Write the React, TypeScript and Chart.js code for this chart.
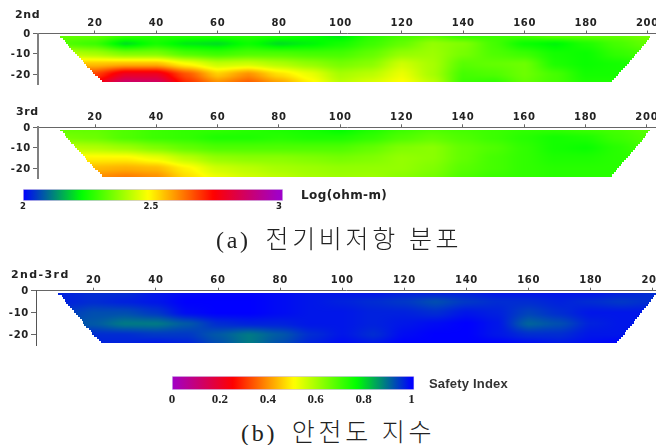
import React, { useEffect, useRef } from "react";
import { Chart, registerables } from "chart.js";

Chart.register(...registerables);

// ---------- data ----------
const xGrid = [10, 20, 30, 40, 50, 60, 70, 80, 90, 100, 110, 120, 130, 140, 150, 160, 170, 180, 190, 200];
const depthGrid = [-1, -5, -10, -15, -20, -24];
const xTickValues = [20, 40, 60, 80, 100, 120, 140, 160, 180, 200];
const yTickValues = [0, -10, -20];

const values2nd = [
  [2.33, 2.33, 2.29, 2.27, 2.27, 2.27, 2.27, 2.26, 2.24, 2.21, 2.27, 2.3, 2.32, 2.28, 2.29, 2.3, 2.33, 2.33, 2.33, 2.35],
  [2.31, 2.29, 2.2, 2.25, 2.21, 2.2, 2.24, 2.2, 2.22, 2.25, 2.29, 2.33, 2.38, 2.36, 2.3, 2.24, 2.22, 2.26, 2.3, 2.33],
  [2.42, 2.4, 2.36, 2.36, 2.31, 2.29, 2.31, 2.31, 2.3, 2.3, 2.33, 2.38, 2.39, 2.35, 2.31, 2.29, 2.25, 2.24, 2.28, 2.3],
  [2.55, 2.55, 2.56, 2.56, 2.49, 2.43, 2.44, 2.41, 2.38, 2.35, 2.37, 2.44, 2.4, 2.32, 2.33, 2.34, 2.26, 2.24, 2.25, 2.27],
  [2.68, 2.68, 2.79, 2.79, 2.66, 2.54, 2.6, 2.52, 2.47, 2.4, 2.42, 2.47, 2.4, 2.3, 2.31, 2.34, 2.3, 2.25, 2.25, 2.25],
  [2.75, 2.75, 2.88, 2.87, 2.7, 2.6, 2.65, 2.58, 2.5, 2.42, 2.45, 2.49, 2.42, 2.29, 2.28, 2.33, 2.3, 2.26, 2.26, 2.26],
];
const values3rd = [
  [2.33, 2.33, 2.31, 2.29, 2.28, 2.28, 2.27, 2.26, 2.25, 2.23, 2.26, 2.29, 2.31, 2.3, 2.29, 2.28, 2.28, 2.29, 2.3, 2.32],
  [2.35, 2.34, 2.31, 2.29, 2.28, 2.26, 2.26, 2.27, 2.26, 2.26, 2.28, 2.31, 2.33, 2.31, 2.29, 2.27, 2.25, 2.26, 2.29, 2.31],
  [2.42, 2.41, 2.39, 2.36, 2.33, 2.31, 2.31, 2.31, 2.31, 2.31, 2.33, 2.36, 2.37, 2.33, 2.31, 2.28, 2.25, 2.24, 2.27, 2.3],
  [2.5, 2.5, 2.5, 2.47, 2.42, 2.38, 2.37, 2.37, 2.36, 2.35, 2.36, 2.38, 2.37, 2.33, 2.3, 2.28, 2.26, 2.26, 2.27, 2.28],
  [2.56, 2.56, 2.57, 2.56, 2.5, 2.44, 2.42, 2.4, 2.39, 2.38, 2.38, 2.38, 2.36, 2.32, 2.3, 2.28, 2.27, 2.27, 2.27, 2.28],
  [2.6, 2.6, 2.62, 2.6, 2.52, 2.47, 2.44, 2.42, 2.4, 2.39, 2.39, 2.37, 2.35, 2.31, 2.29, 2.28, 2.27, 2.27, 2.27, 2.28],
];
const valuesDiff = [
  [0.97, 0.96, 0.96, 0.98, 0.99, 0.995, 0.995, 0.99, 0.98, 0.98, 0.98, 0.97, 0.97, 0.97, 0.98, 0.98, 0.98, 0.98, 0.97, 0.96],
  [0.97, 0.96, 0.97, 0.98, 1, 1, 1, 0.99, 0.98, 0.97, 0.96, 0.95, 0.93, 0.95, 0.96, 0.96, 0.97, 0.96, 0.95, 0.96],
  [0.95, 0.93, 0.93, 0.95, 0.99, 1, 1, 0.99, 0.98, 0.98, 0.97, 0.97, 0.96, 0.98, 0.97, 0.94, 0.96, 0.98, 0.98, 0.98],
  [0.93, 0.92, 0.89, 0.89, 0.92, 0.96, 0.97, 0.97, 0.98, 0.98, 0.97, 0.98, 0.99, 1, 0.98, 0.91, 0.93, 0.97, 0.98, 0.98],
  [0.96, 0.96, 0.96, 0.95, 0.95, 0.92, 0.89, 0.92, 0.96, 0.98, 0.96, 0.99, 1, 1, 0.98, 0.96, 0.96, 0.98, 0.98, 1],
  [0.97, 0.97, 0.97, 0.98, 0.97, 0.93, 0.89, 0.93, 0.97, 0.99, 0.98, 1, 1, 1, 1, 0.99, 0.98, 0.99, 1, 1],
];

// section outline
const edgeDepth = [-1.2, -2, -3, -4, -5, -6, -7, -8, -9, -10, -11, -12, -13, -14, -15, -16, -17, -18, -19, -20, -21, -22, -23, -24];
const edgeLeft = [8.6, 9.7, 10.2, 10.6, 11.2, 11.7, 12.3, 13, 13.5, 14.2, 14.8, 15.5, 16.2, 16.6, 17, 17.5, 18.4, 19, 19.5, 20, 20.9, 21.6, 22.2, 22.5];
const edgeRight = [201.3, 200.9, 200.4, 199.9, 199.4, 198.9, 198.3, 197.8, 197.2, 196.6, 196, 195.5, 195, 194.4, 193.9, 193.2, 192.6, 192, 191.5, 190.9, 190.3, 189.8, 189.2, 188.5];

// colour scale
const stopPositions = [0, 0.23, 0.49, 0.745, 1];
const stopColors = [
  [0, 0, 255],
  [0, 255, 0],
  [255, 255, 0],
  [255, 0, 0],
  [160, 0, 200],
];

const logTicks = [2, 2.5, 3];
const safetyTicks = [0, 0.2, 0.4, 0.6, 0.8, 1];

// ---------- helpers ----------
function colorAt(t: number) {
  const c = Math.max(0, Math.min(1, t));
  let i = 0;
  while (i < stopPositions.length - 2 && c > stopPositions[i + 1]) i++;
  const f = (c - stopPositions[i]) / (stopPositions[i + 1] - stopPositions[i]);
  return stopColors[i].map((v, k) => Math.round(v + (stopColors[i + 1][k] - v) * f));
}

function sampleField(values: number[][], x: number, y: number) {
  const locate = (arr: number[], v: number, desc: boolean) => {
    const n = arr.length;
    if (desc ? v >= arr[0] : v <= arr[0]) return [0, 0, 0];
    if (desc ? v <= arr[n - 1] : v >= arr[n - 1]) return [n - 1, n - 1, 0];
    let i = 0;
    while (desc ? v < arr[i + 1] : v > arr[i + 1]) i++;
    let f = (v - arr[i]) / (arr[i + 1] - arr[i]);
    f = f * f * (3 - 2 * f) * 0.5 + f * 0.5;
    return [i, i + 1, f];
  };
  const [c0, c1, fx] = locate(xGrid, x, false);
  const [r0, r1, fy] = locate(depthGrid, y, true);
  const a = values[r0][c0] * (1 - fx) + values[r0][c1] * fx;
  const b = values[r1][c0] * (1 - fx) + values[r1][c1] * fx;
  return a * (1 - fy) + b * fy;
}

const fieldPlugin = {
  id: "field",
  beforeDraw(chart: any) {
    chart.ctx.letterSpacing = "0.7px";
  },
  beforeDatasetsDraw(chart: any, _args: any, opts: any) {
    if (!opts || !opts.values) return;
    const { chartArea: a, ctx, scales } = chart;
    const w = Math.ceil(a.right - a.left);
    const h = Math.ceil(a.bottom - a.top);
    const off = document.createElement("canvas");
    off.width = w;
    off.height = h;
    const oc = off.getContext("2d")!;
    const img = oc.createImageData(w, h);
    for (let py = 0; py < h; py++) {
      const dv = scales.y.getValueForPixel(a.top + py + 0.5);
      for (let px = 0; px < w; px++) {
        const xv = scales.x.getValueForPixel(a.left + px + 0.5);
        const v = sampleField(opts.values, xv, dv);
        const rgb = colorAt(opts.toT(v));
        const k = (py * w + px) * 4;
        img.data[k] = rgb[0];
        img.data[k + 1] = rgb[1];
        img.data[k + 2] = rgb[2];
        img.data[k + 3] = 255;
      }
    }
    oc.putImageData(img, 0, 0);
    ctx.save();
    ctx.beginPath();
    const X = (v: number) => Math.round(scales.x.getPixelForValue(v));
    const Y = (v: number) => Math.round(scales.y.getPixelForValue(v));
    ctx.moveTo(X(edgeLeft[0]), Y(edgeDepth[0]));
    for (let i = 0; i < edgeDepth.length - 1; i++) {
      ctx.lineTo(X(edgeLeft[i]), Y(edgeDepth[i + 1]));
      ctx.lineTo(X(edgeLeft[i + 1]), Y(edgeDepth[i + 1]));
    }
    const n = edgeDepth.length - 1;
    ctx.lineTo(X(edgeRight[n]), Y(edgeDepth[n]));
    for (let i = n; i > 0; i--) {
      ctx.lineTo(X(edgeRight[i]), Y(edgeDepth[i - 1]));
      ctx.lineTo(X(edgeRight[i - 1]), Y(edgeDepth[i - 1]));
    }
    ctx.closePath();
    ctx.clip();
    ctx.drawImage(off, a.left, a.top);
    ctx.restore();
  },
};

const tickFont = { family: "'DejaVu Sans'", weight: "bold" as const, size: 10 };

type PanelProps = {
  top: number;
  height: number;
  y0: number;
  yEnd: number;
  xMin: number;
  xMax: number;
  left: number;
  yBorder: { color: string; width: number };
  values: number[][];
  toT: (v: number) => number;
};

function Panel(p: PanelProps) {
  const ref = useRef<HTMLCanvasElement>(null);
  useEffect(() => {
    const points = depthGrid.flatMap((y, r) => xGrid.map((x, c) => ({ x, y, v: p.values[r][c] })));
    const chart = new Chart(ref.current!, {
      type: "scatter",
      data: { datasets: [{ data: points, pointRadius: 0, pointHoverRadius: 0, showLine: false }] },
      options: {
        animation: false,
        responsive: false,
        devicePixelRatio: 1,
        layout: { padding: { left: 0, right: 0, top: 0, bottom: p.height - (p.yEnd - p.top) } },
        plugins: {
          legend: { display: false },
          tooltip: { enabled: false },
          field: { values: p.values, toT: p.toT },
        } as any,
        scales: {
          x: {
            type: "linear",
            position: "top",
            min: p.xMin,
            max: p.xMax,
            afterBuildTicks: (s: any) => {
              s.ticks = xTickValues.map((value) => ({ value }));
            },
            afterFit: (s: any) => {
              s.height = p.y0 - p.top;
              s.paddingLeft = 0;
              s.paddingRight = 0;
            },
            border: { color: "#666", width: 1 },
            grid: { drawOnChartArea: false, tickLength: 3, color: "#666", tickColor: "#666" },
            ticks: { font: tickFont, color: "#222", padding: 1, maxRotation: 0, autoSkip: false, callback: (v: any) => String(v) },
          },
          y: {
            type: "linear",
            min: -25,
            max: 0,
            afterBuildTicks: (s: any) => {
              s.ticks = yTickValues.map((value) => ({ value }));
            },
            afterFit: (s: any) => {
              s.width = p.left;
              s.paddingTop = 0;
              s.paddingBottom = 0;
            },
            border: p.yBorder,
            grid: { drawOnChartArea: false, tickLength: 5, color: "#666", tickColor: "#666" },
            ticks: { font: tickFont, color: "#222", padding: 2, labelOffset: 1, autoSkip: false, callback: (v: any) => String(v) },
          },
        },
      } as any,
      plugins: [fieldPlugin],
    });
    return () => chart.destroy();
  }, []);
  return (
    <canvas
      ref={ref}
      width={656}
      height={p.height}
      style={{ position: "absolute", left: 0, top: p.top, display: "block" }}
    />
  );
}

type BarProps = {
  top: number;
  barHeight: number;
  height: number;
  left: number;
  right: number;
  min: number;
  max: number;
  ticks: number[];
  toT: (v: number) => number;
  font: any;
  tickPad: number;
  label: string;
};

function ColorBar(p: BarProps) {
  const ref = useRef<HTMLCanvasElement>(null);
  useEffect(() => {
    const chart = new Chart(ref.current!, {
      type: "bar",
      data: {
        labels: [p.label],
        datasets: [
          {
            data: [[p.min, p.max]],
            borderSkipped: false,
            borderWidth: 1,
            borderColor: "#d9c8f0",
            barPercentage: 1,
            categoryPercentage: 1,
            backgroundColor: (c: any) => {
              const g = c.chart.ctx.createLinearGradient(p.left, 0, p.right, 0);
              for (let i = 0; i <= 100; i++) {
                const v = p.min + ((p.max - p.min) * i) / 100;
                const rgb = colorAt(p.toT(v));
                g.addColorStop(i / 100, `rgb(${rgb[0]},${rgb[1]},${rgb[2]})`);
              }
              return g;
            },
          },
        ],
      },
      options: {
        animation: false,
        responsive: false,
        devicePixelRatio: 1,
        indexAxis: "y",
        layout: { padding: { left: p.left, right: 656 - p.right, top: 0, bottom: 0 } },
        plugins: { legend: { display: false }, tooltip: { enabled: false } },
        scales: {
          x: {
            type: "linear",
            position: "bottom",
            min: p.min,
            max: p.max,
            afterBuildTicks: (s: any) => {
              s.ticks = p.ticks.map((value) => ({ value }));
            },
            afterFit: (s: any) => {
              s.height = p.height - p.barHeight;
              s.paddingLeft = 0;
              s.paddingRight = 0;
            },
            border: { display: false },
            grid: { display: false, drawTicks: false, tickLength: 0 },
            ticks: { font: p.font, color: "#222", padding: p.tickPad, maxRotation: 0, autoSkip: false, callback: (v: any) => String(v) },
          },
          y: { type: "category", display: false },
        },
      } as any,
    });
    return () => chart.destroy();
  }, []);
  return (
    <canvas
      ref={ref}
      width={656}
      height={p.height}
      style={{ position: "absolute", left: 0, top: p.top, display: "block" }}
    />
  );
}

const logToT = (v: number) => v - 2;
const safetyToT = (v: number) => 1 - v;

function Label(props: { x: number; y: number; style: React.CSSProperties; children: React.ReactNode }) {
  return (
    <div style={{ position: "absolute", left: props.x, top: props.y, whiteSpace: "pre", lineHeight: 1, ...props.style }}>
      {props.children}
    </div>
  );
}

const panelLabelStyle: React.CSSProperties = { fontFamily: "'DejaVu Sans'", fontWeight: "bold", fontSize: 11, letterSpacing: 0.6, color: "#222" };
const captionStyle: React.CSSProperties = {
  fontFamily: "'Liberation Serif', 'Noto Sans CJK KR'",
  fontSize: 24,
  letterSpacing: 2.7,
  color: "#222",
  fontWeight: 300,
};
const hangulStyle: React.CSSProperties = { marginLeft: 6, fontSize: 25, letterSpacing: 3.7 };

export default function App() {
  return (
    <div style={{ position: "absolute", left: 0, top: 0, width: 656, height: 445, background: "#fff", overflow: "hidden" }}>
      <Panel top={0} height={90} y0={33.5} yEnd={84.25} xMin={1.45} xMax={202.8} left={38} yBorder={{ color: "#808080", width: 2 }} values={values2nd} toT={logToT} />
      <Panel top={95} height={90} y0={127.3} yEnd={178.6} xMin={1.4} xMax={203} left={38} yBorder={{ color: "#808080", width: 2 }} values={values3rd} toT={logToT} />
      <Panel top={260} height={92} y0={290.7} yEnd={345.7} xMin={1.4} xMax={201} left={36} yBorder={{ color: "#555", width: 1 }} values={valuesDiff} toT={safetyToT} />
      <ColorBar top={189} barHeight={12} height={26} left={23} right={283} min={2} max={3.016} ticks={logTicks} toT={logToT} font={{ family: "'DejaVu Sans'", weight: "bold", size: 8.5 }} tickPad={1} label="Log(ohm-m)" />
      <ColorBar top={376} barHeight={14} height={32} left={172} right={414.3} min={0} max={1.012} ticks={safetyTicks} toT={safetyToT} font={{ family: "'Liberation Serif'", weight: "bold", size: 13 }} tickPad={2} label="Safety Index" />
      <Label x={15} y={9} style={panelLabelStyle}>2nd</Label>
      <Label x={16} y={106} style={panelLabelStyle}>3rd</Label>
      <Label x={11} y={269} style={{ ...panelLabelStyle, letterSpacing: 1.4 }}>2nd-3rd</Label>
      <Label x={301} y={189} style={{ fontFamily: "'DejaVu Sans'", fontWeight: "bold", fontSize: 12, letterSpacing: 0.4, color: "#222" }}>Log(ohm-m)</Label>
      <Label x={429} y={377} style={{ fontFamily: "'Liberation Sans'", fontWeight: "bold", fontSize: 13, color: "#333", letterSpacing: 0.2 }}>Safety Index</Label>
      <Label x={216} y={227} style={captionStyle}>{"(a) "}<span style={hangulStyle}>{"전기비저항 분포"}</span></Label>
      <Label x={241} y={420} style={captionStyle}>{"(b) "}<span style={hangulStyle}>{"안전도 지수"}</span></Label>
    </div>
  );
}
